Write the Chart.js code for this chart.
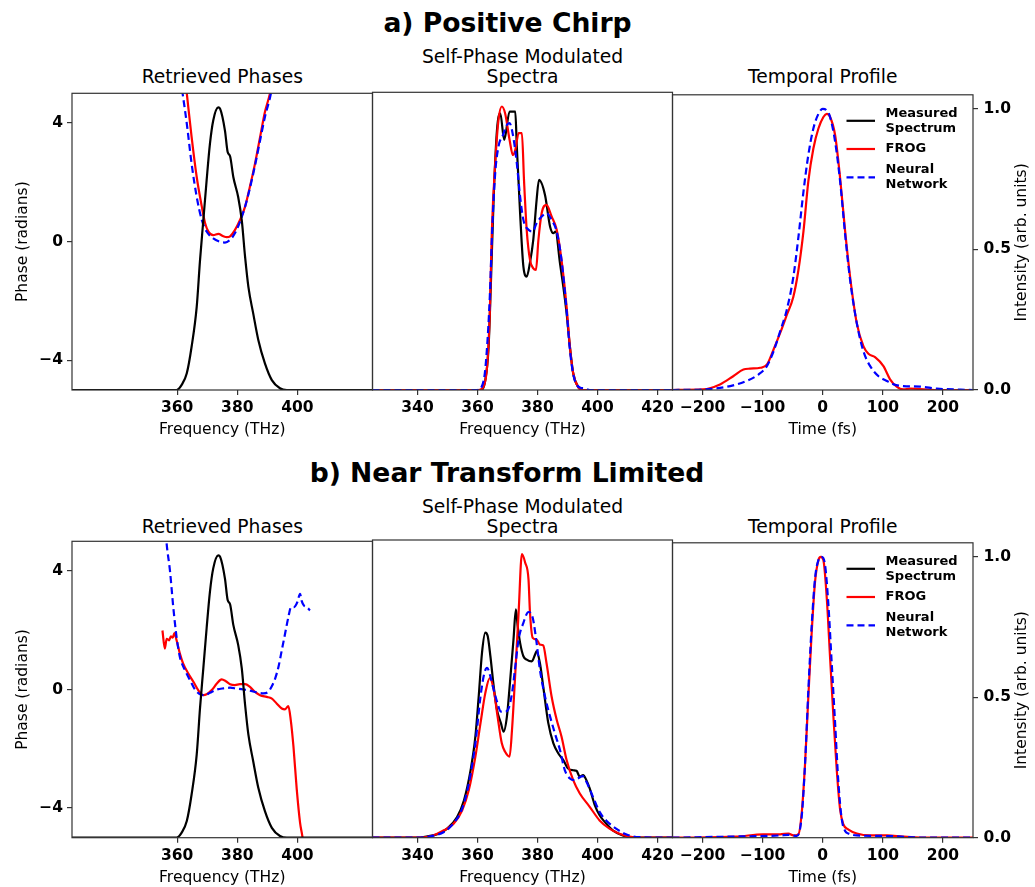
<!DOCTYPE html>
<html><head><meta charset="utf-8">
<script src="https://cdn.jsdelivr.net/npm/chart.js@4.4.1/dist/chart.umd.min.js"></script>
<style>
html,body{margin:0;padding:0;background:#fff;}
body{width:1035px;height:887px;overflow:hidden;position:relative;font-family:"DejaVu Sans",sans-serif;}
canvas{position:absolute;}
.t{position:absolute;white-space:nowrap;transform:translateX(-50%);line-height:normal;color:#000;}
.big{font-weight:bold;font-size:26.6px;}
.sub{font-size:18.7px;}
</style></head><body>
<div class="t big" style="left:507.5px;top:7.0px">a) Positive Chirp</div>
<div class="t sub" style="left:222.25px;top:66.2px">Retrieved Phases</div>
<div class="t sub" style="left:522.5px;top:46px">Self-Phase Modulated</div>
<div class="t sub" style="left:522.5px;top:66.2px">Spectra</div>
<div class="t sub" style="left:822.75px;top:66.2px">Temporal Profile</div>
<div class="t big" style="left:507px;top:457.0px">b) Near Transform Limited</div>
<div class="t sub" style="left:222.25px;top:516.2px">Retrieved Phases</div>
<div class="t sub" style="left:522.5px;top:496px">Self-Phase Modulated</div>
<div class="t sub" style="left:522.5px;top:516.2px">Spectra</div>
<div class="t sub" style="left:822.75px;top:516.2px">Temporal Profile</div>
<script>
// ---------- tick labels / categories ----------
const phaseTicks = [-4, 0, 4];
const phaseFreqTicks = [360, 380, 400];
const specFreqTicks = [340, 360, 380, 400, 420];
const timeTicks = [-200, -100, 0, 100, 200];
const intensityTicks = [0, 0.5, 1.0];
const seriesNames = ['Measured Spectrum', 'FROG', 'Neural Network'];
const legendLabels = [['Measured', 'Spectrum'], ['FROG'], ['Neural', 'Network']];

// ---------- measured fundamental spectrum (phase panels, both rows) ----------
const fundFreq = [325,359.8,361.5,363.2,364.8,366.5,367.6,368.7,369.8,370.9,372.0,373.7,374.3,375.9,376.8,377.6,378.7,380.3,381.5,382.6,383.7,385.3,387.0,389.2,391.5,394.2,396.5,425];
const fundInt  = [0,0,0.018,0.059,0.153,0.294,0.459,0.60,0.742,0.871,0.954,1.0,0.995,0.918,0.842,0.827,0.753,0.683,0.60,0.471,0.365,0.271,0.177,0.094,0.035,0.006,0,0];

// ---------- a) positive chirp ----------
const aPhaseFrogFreq = [362.6,363.2,364.8,366.5,368.2,369.3,370.4,372.0,373.7,375.4,376.5,377.6,379.2,380.9,382.6,384.2,385.9,387.6,389.2,390.9,391.8];
const aPhaseFrog     = [5.55,5.0,3.53,2.18,1.18,0.62,0.34,0.22,0.26,0.18,0.15,0.18,0.39,0.73,1.18,1.85,2.63,3.53,4.37,5.0,5.5];
const aPhaseNNFreq = [361.1,361.8,363.2,364.8,366.5,368.2,369.8,372.0,374.2,375.9,377.6,379.2,380.9,382.6,384.2,385.9,387.6,389.2,391.2,392.0];
const aPhaseNN     = [5.5,5.0,3.98,2.63,1.51,0.73,0.34,0.11,0.0,-0.03,0.06,0.28,0.67,1.18,1.8,2.57,3.42,4.2,5.0,5.5];

const aSpecMeasFreq = [325,361.0,362.6,363.7,364.5,365.4,366.5,367.6,368.9,370.7,372.6,373.1,374.2,375.3,376.4,377.5,378.6,379.7,380.5,382.5,384.2,385.3,386.0,387.5,388.6,389.7,390.8,391.9,393.5,395.2,425];
const aSpecMeas     = [0,0,0.035,0.153,0.388,0.682,0.918,0.976,0.882,0.982,0.982,0.859,0.624,0.435,0.40,0.45,0.53,0.67,0.741,0.688,0.576,0.553,0.559,0.447,0.365,0.271,0.153,0.059,0.012,0,0];
const aSpecFrogFreq = [325,360.5,362.1,363.2,364.1,364.8,365.9,367.0,368.1,369.2,370.7,371.8,372.6,373.7,374.8,375.5,376.4,377.5,378.6,379.5,380.3,381.4,383.0,384.7,386.4,388.0,389.7,390.8,391.9,393.5,395.2,425];
const aSpecFrog     = [0,0,0.014,0.082,0.271,0.565,0.80,0.953,1.0,0.976,0.882,0.829,0.847,0.906,0.906,0.741,0.565,0.459,0.429,0.424,0.529,0.624,0.653,0.612,0.565,0.459,0.294,0.153,0.059,0.012,0,0];
const aSpecNNFreq = [325,359.9,362.1,363.2,364.1,364.9,365.9,367.0,368.5,369.8,370.7,371.8,373.1,374.2,375.3,377.0,378.4,379.7,381.4,383.0,384.7,386.4,388.0,389.7,390.8,392.1,394.1,395.7,397.4,425];
const aSpecNN     = [0,0,0.035,0.153,0.329,0.565,0.765,0.859,0.90,0.935,0.941,0.90,0.80,0.682,0.60,0.565,0.559,0.588,0.612,0.624,0.60,0.559,0.459,0.282,0.141,0.047,0.009,0.006,0,0];

const aTimeFrogT = [-250,-199,-171,-149,-132,-121,-104,-93,-82,-71,-60,-49,-40.6,-32,-24,-15.6,-7.2,1.1,6.7,12.2,20.6,28.9,37.2,45.6,56.7,67.8,76,87,101,112,123,134,146,190,250];
const aTimeFrog  = [0,0.002,0.02,0.049,0.073,0.076,0.079,0.09,0.143,0.202,0.266,0.331,0.425,0.566,0.742,0.859,0.93,0.971,0.982,0.971,0.906,0.754,0.566,0.401,0.237,0.155,0.129,0.117,0.085,0.038,0.012,0.002,0.005,0,0];
const aTimeNNT = [-250,-199,-154,-127,-107,-93,-82,-71,-60,-49,-40.6,-32,-24,-15.6,-7.2,0,6.7,12.2,20.6,28.9,37.2,45.6,56.7,67.8,78.9,92.8,106.7,118,134,162,190,250];
const aTimeNN  = [0,0.002,0.014,0.032,0.055,0.085,0.137,0.208,0.284,0.401,0.542,0.707,0.836,0.93,0.982,1.0,0.994,0.971,0.883,0.742,0.554,0.39,0.237,0.137,0.085,0.049,0.032,0.02,0.014,0.012,0.005,0];

// ---------- b) near transform limited ----------
const bPhaseFrogFreq = [355.1,355.9,356.5,357.3,357.9,358.5,359.1,359.8,360.9,362.0,363.7,365.4,367.0,368.7,369.8,371.5,373.2,374.8,376.2,377.6,379.2,380.9,382.6,384.2,385.9,387.6,389.8,391.4,393.1,394.8,395.9,397.0,397.8,398.7,399.8,400.9,401.8,402.0];
const bPhaseFrog     = [1.99,1.38,1.71,1.66,1.79,1.75,1.90,1.66,1.21,0.87,0.54,0.26,-0.02,-0.19,-0.16,-0.02,0.2,0.34,0.28,0.18,0.15,0.18,0.18,0.09,-0.08,-0.19,-0.25,-0.30,-0.47,-0.64,-0.67,-0.56,-1.03,-1.93,-3.38,-4.5,-5.06,-5.3];
const bPhaseNNFreq = [356.2,356.5,357.6,358.7,359.8,360.9,362.6,364.3,365.9,367.6,369.3,370.9,373.2,375.4,377.6,379.8,382.0,384.2,386.5,388.7,390.3,391.4,392.6,393.7,394.8,395.9,397.0,397.9,398.9,400.0,400.9,401.4,402.2,403.1,404.2];
const bPhaseNN     = [5.3,4.91,4.01,2.78,1.77,1.10,0.65,0.31,0.0,-0.16,-0.19,-0.11,0.0,0.04,0.06,0.03,0.0,-0.04,-0.1,-0.13,-0.08,0.09,0.37,0.76,1.32,1.88,2.44,2.78,2.78,2.95,3.23,3.0,2.83,2.78,2.67];

const bSpecMeasFreq = [325,340,343.3,346.6,349.9,353.2,355.5,357.7,359.3,360.4,361.5,362.6,363.4,364.3,365.4,366.5,367.8,368.7,369.8,370.9,372.0,372.8,373.4,374.2,375.3,376.4,378.1,379.2,379.7,380.8,381.9,383.6,385.3,386.9,388.6,390.2,391.9,393.0,394.1,395.2,396.3,397.4,399.1,400.7,402.9,405.1,408.4,411.7,425];
const bSpecMeas     = [0,0,0.005,0.012,0.032,0.073,0.132,0.238,0.357,0.498,0.652,0.723,0.711,0.64,0.534,0.451,0.404,0.374,0.427,0.557,0.699,0.805,0.746,0.687,0.64,0.628,0.622,0.646,0.658,0.616,0.534,0.404,0.333,0.298,0.274,0.244,0.238,0.236,0.215,0.221,0.203,0.174,0.115,0.079,0.05,0.026,0.008,0,0];
const bSpecFrogFreq = [325,340,344.4,348.8,352.1,354.9,357.1,359.3,361.0,362.6,364.1,365.4,366.7,368.1,369.2,370.7,371.5,372.6,373.7,374.8,375.9,377.0,377.5,378.4,379.7,380.8,381.9,383.0,384.7,386.4,388.0,389.7,391.9,394.1,397.4,400.7,404.0,407.3,411.7,416,425];
const bSpecFrog     = [0,0,0.005,0.026,0.05,0.097,0.168,0.286,0.404,0.51,0.563,0.522,0.427,0.333,0.303,0.286,0.38,0.581,0.793,1.0,0.97,0.911,0.793,0.705,0.699,0.681,0.678,0.616,0.498,0.416,0.357,0.274,0.203,0.156,0.109,0.061,0.032,0.014,0.002,0,0];
const bSpecNNFreq = [325,340,344.4,348.8,352.1,354.9,357.1,359.3,361.0,362.3,363.2,364.3,365.4,366.5,367.8,369.2,370.4,371.5,372.6,373.7,375.3,377.0,378.4,379.7,380.8,382.5,384.2,385.8,387.5,389.1,390.8,392.4,393.5,395.0,396.3,398.5,400.7,402.9,406.2,409.5,413.9,425];
const bSpecNN     = [0,0,0.005,0.02,0.052,0.103,0.191,0.333,0.498,0.581,0.599,0.569,0.522,0.48,0.445,0.445,0.457,0.51,0.604,0.699,0.758,0.796,0.776,0.687,0.593,0.498,0.427,0.368,0.309,0.238,0.209,0.203,0.209,0.217,0.197,0.144,0.091,0.061,0.032,0.012,0.002,0];

const bTimeFrogT = [-250,-143,-99,-71,-57,-49,-40.6,-35,-29.4,-24,-18.3,-12.8,-7.2,-3.3,1.1,6.7,12.2,17.8,23.3,28.9,34.4,42.8,56.7,79,107,134,180,250];
const bTimeFrog  = [0,0.004,0.012,0.012,0.015,0.008,0.012,0.088,0.265,0.5,0.735,0.912,0.988,1.0,0.988,0.853,0.641,0.429,0.241,0.1,0.047,0.029,0.015,0.008,0.008,0.004,0,0];
const bTimeNNT = [-250,-150,-71,-57,-43,-35,-29.4,-24,-18.3,-12.8,-7.2,-1.7,3.9,9.4,15,20.6,26.1,31.7,37.2,42.8,56.7,107,170,250];
const bTimeNN  = [0,0.004,0.008,0.01,0.006,0.076,0.265,0.524,0.759,0.924,0.988,1.0,0.97,0.829,0.618,0.406,0.194,0.065,0.024,0.015,0.008,0.006,0,0];

// ---------- styling / helpers ----------
const FONTFAM = '"DejaVu Sans", sans-serif';
const AX = '#333';
const XH = 49.5;              // x-axis box height
const COLORS = ['#000000', '#ff0000', '#0000ff'];
const DASHES = [[], [], [7, 4]];
Chart.defaults.font.family = FONTFAM;

function toXY(xs, ys) { return xs.map((x, i) => ({x: x, y: ys[i]})); }
function fmtNum(v) { return v < 0 ? '\u2212' + Math.abs(v) : String(v); }
function tickFont() { return {family: FONTFAM, size: 15.5, weight: 'bold', lineHeight: 1.2}; }
function labelFont() { return {family: FONTFAM, size: 15.5, lineHeight: 1.2}; }
function gridOpts() { return {drawOnChartArea: false, drawTicks: true, tickLength: 5, color: AX, lineWidth: 1.2}; }

function ds(k, xs, ys, axis, order) {
  return {label: seriesNames[k], data: toXY(xs, ys), borderColor: COLORS[k], backgroundColor: COLORS[k],
    borderWidth: 2.2, borderDash: DASHES[k], pointRadius: 0, pointHoverRadius: 0, fill: false,
    cubicInterpolationMode: 'monotone', yAxisID: axis, order: order};
}
function xAxis(min, max, ticks, title) {
  return {type: 'linear', position: 'bottom', min: min, max: max,
    afterBuildTicks(s) { s.ticks = ticks.map(v => ({value: v})); },
    afterFit(s) { s.height = XH; },
    grid: gridOpts(), border: {display: false},
    ticks: {color: '#000', padding: 3.5, font: tickFont(), maxRotation: 0, autoSkip: false, callback: v => fmtNum(v)},
    title: {display: true, text: title, color: '#000', font: labelFont(), padding: {top: 0, bottom: 0.2}}};
}
function phaseAxis() {
  return {type: 'linear', position: 'left', min: -5, max: 5,
    afterBuildTicks(s) { s.ticks = phaseTicks.map(v => ({value: v})); },
    afterFit(s) { s.width = 72; },
    grid: gridOpts(), border: {display: false},
    ticks: {color: '#000', padding: 4, font: tickFont(), callback: v => fmtNum(v)},
    title: {display: true, text: 'Phase (radians)', color: '#000', font: labelFont(), padding: {top: 14, bottom: 0}}};
}
function intensityAxis() {
  return {type: 'linear', position: 'right', min: 0, max: 1.05,
    afterBuildTicks(s) { s.ticks = intensityTicks.map(v => ({value: v})); },
    afterFit(s) { s.width = 62; },
    grid: gridOpts(), border: {display: false},
    ticks: {color: '#000', padding: 5.5, font: tickFont(), callback: v => Number(v).toFixed(1)},
    title: {display: false}};
}
function hiddenIntensity() { return {type: 'linear', display: false, min: 0, max: 1.05}; }

const framePlugin = {id: 'frame', afterDraw(chart) {
  const {ctx, chartArea: a} = chart;
  ctx.save(); ctx.strokeStyle = AX; ctx.lineWidth = 1.2;
  ctx.strokeRect(a.left, a.top, a.right - a.left, a.bottom - a.top); ctx.restore();
}};
const legendRows = [26, 54.2, 82.5];
const legendPlugin = {id: 'mlegend', afterDraw(chart) {
  const {ctx, chartArea: a} = chart;
  chart.data.datasets.forEach((d, i) => {
    const cy = a.top + legendRows[i];
    ctx.save();
    ctx.strokeStyle = d.borderColor; ctx.lineWidth = d.borderWidth; ctx.setLineDash(d.borderDash || []);
    ctx.beginPath(); ctx.moveTo(a.left + 174, cy); ctx.lineTo(a.left + 202.5, cy); ctx.stroke();
    ctx.setLineDash([]);
    ctx.fillStyle = '#000'; ctx.font = 'bold 13px ' + FONTFAM; ctx.textBaseline = 'middle'; ctx.textAlign = 'left';
    const lines = legendLabels[i];
    lines.forEach((t, j) => ctx.fillText(t, a.left + 213, cy + (j - (lines.length - 1) / 2) * 15.3));
    ctx.restore();
  });
}};
const rightTitlePlugin = {id: 'rtitle', afterDraw(chart) {
  const {ctx, chartArea: a} = chart;
  const sc = chart.scales.y;
  ctx.save();
  ctx.translate(sc.right - 13.4, (a.top + a.bottom) / 2);
  ctx.rotate(-Math.PI / 2);
  ctx.fillStyle = '#000'; ctx.font = '15.5px ' + FONTFAM; ctx.textAlign = 'center'; ctx.textBaseline = 'middle';
  ctx.fillText('Intensity (arb. units)', 0, 0);
  ctx.restore();
}};

function common(scales) {
  return {responsive: false, animation: false, devicePixelRatio: 1, events: [],
    plugins: {legend: {display: false}, tooltip: {enabled: false}}, scales: scales};
}
function panel(area, leftW, rightW, config) {
  const extraL = leftW ? 0 : 25, extraR = rightW ? 0 : 25;
  const cl = Math.floor(area.L - leftW - extraL);
  const cr = Math.ceil(area.R + rightW + extraR);
  const ct = Math.floor(area.T - 12);
  const cb = Math.ceil(area.B + XH);
  const cv = document.createElement('canvas');
  cv.width = cr - cl; cv.height = cb - ct;
  cv.style.left = cl + 'px'; cv.style.top = ct + 'px';
  cv.style.width = (cr - cl) + 'px'; cv.style.height = (cb - ct) + 'px';
  document.body.appendChild(cv);
  config.options.layout = {padding: {left: area.L - leftW - cl, right: cr - area.R - rightW, top: area.T - ct, bottom: cb - area.B - XH}};
  return new Chart(cv, config);
}

const rows = [
  {T: 92.3, B: 390, phF: aPhaseFrogFreq, phFv: aPhaseFrog, phN: aPhaseNNFreq, phNv: aPhaseNN,
   sM: aSpecMeasFreq, sMv: aSpecMeas, sF: aSpecFrogFreq, sFv: aSpecFrog, sN: aSpecNNFreq, sNv: aSpecNN,
   tF: aTimeFrogT, tFv: aTimeFrog, tN: aTimeNNT, tNv: aTimeNN},
  {T: 540, B: 837.7, phF: bPhaseFrogFreq, phFv: bPhaseFrog, phN: bPhaseNNFreq, phNv: bPhaseNN,
   sM: bSpecMeasFreq, sMv: bSpecMeas, sF: bSpecFrogFreq, sFv: bSpecFrog, sN: bSpecNNFreq, sNv: bSpecNN,
   tF: bTimeFrogT, tFv: bTimeFrog, tN: bTimeNNT, tNv: bTimeNN}
];

rows.forEach(r => {
  // Retrieved phases
  panel({L: 72, R: 372.5, T: r.T, B: r.B}, 72, 0, {type: 'line',
    data: {datasets: [ds(0, fundFreq, fundInt, 'y2', 0), ds(1, r.phF, r.phFv, 'y', 2), ds(2, r.phN, r.phNv, 'y', 1)]},
    options: common({x: xAxis(325, 425, phaseFreqTicks, 'Frequency (THz)'), y: phaseAxis(), y2: hiddenIntensity()}),
    plugins: [framePlugin]});
  // SPM spectra
  panel({L: 372.5, R: 672.5, T: r.T, B: r.B}, 0, 0, {type: 'line',
    data: {datasets: [ds(0, r.sM, r.sMv, 'y', 3), ds(1, r.sF, r.sFv, 'y', 2), ds(2, r.sN, r.sNv, 'y', 1)]},
    options: common({x: xAxis(325, 425, specFreqTicks, 'Frequency (THz)'), y: hiddenIntensity()}),
    plugins: [framePlugin]});
  // Temporal profile
  panel({L: 672.5, R: 973, T: r.T, B: r.B}, 0, 62, {type: 'line',
    data: {datasets: [ds(0, [], [], 'y', 3), ds(1, r.tF, r.tFv, 'y', 2), ds(2, r.tN, r.tNv, 'y', 1)]},
    options: common({x: xAxis(-250, 250, timeTicks, 'Time (fs)'), y: intensityAxis()}),
    plugins: [framePlugin, legendPlugin, rightTitlePlugin]});
});
</script>
</body></html>
